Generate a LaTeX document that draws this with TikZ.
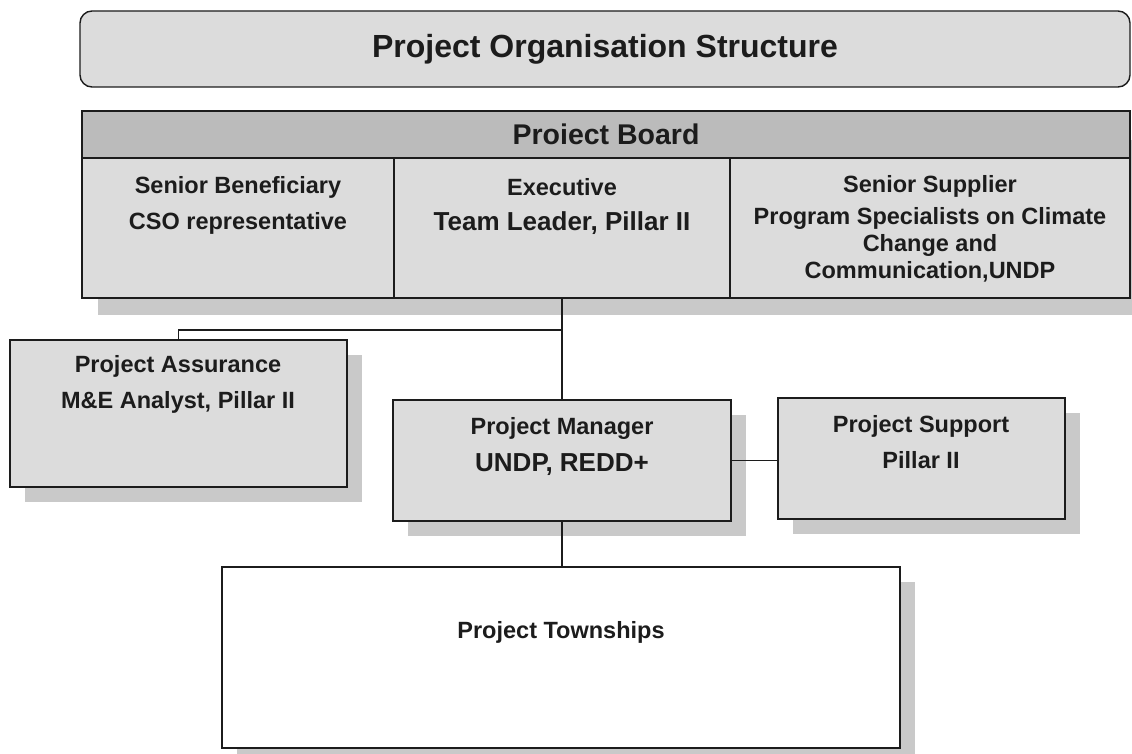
\documentclass[tikz,border=0pt]{standalone}
\usepackage{fontspec}
\setmainfont{Liberation Sans}
\usetikzlibrary{shadows}
\definecolor{boxgray}{HTML}{DCDCDC}
\definecolor{headgray}{HTML}{BBBBBB}
\definecolor{shadegray}{HTML}{C9C9C9}
\definecolor{inkgray}{HTML}{1C1C1C}
\newcommand{\txt}{\fontsize{23.5}{27}\selectfont\bfseries}
\newcommand{\bigtxt}{\fontsize{26}{30}\selectfont\bfseries}

\begin{document}
\begin{tikzpicture}[x=1pt,y=-1pt,
  box/.style={draw=inkgray,line width=1.4pt,fill=boxgray,inner sep=0pt},
  shade/.style={drop shadow={shadow xshift=15pt,shadow yshift=-15pt,fill=shadegray,opacity=1}},
  lbl/.style={text=inkgray,align=center,font=\txt},
  link/.style={draw=inkgray,line width=1.3pt}]
\useasboundingbox (0,0) rectangle (1132,754);

% title
\node[box,rounded corners=12pt,minimum width=1050pt,minimum height=76pt,text=inkgray,
  font=\fontsize{32}{36}\selectfont\bfseries] (title) at (605,49) {Project Organisation Structure};

% board
\fill[shadegray] (98,140) rectangle (1132,315);
\node[box,fill=headgray,minimum width=1048pt,minimum height=47pt,text=inkgray,
  font=\fontsize{28.5}{32}\selectfont\bfseries] (board) at (606,134.5) {Proiect Board};
\node[box,minimum width=312pt,minimum height=140pt] (sb) at (238,228) {};
\node[box,minimum width=336pt,minimum height=140pt] (ex) at (562,228) {};
\node[box,minimum width=400pt,minimum height=140pt] (ss) at (930,228) {};
\node[lbl] (sb-t) at (238,205) {Senior Beneficiary\\[9pt]CSO representative};
\node[lbl] (ex-t) at (562,206) {Executive\\[8pt]{\bigtxt Team Leader, Pillar II}};
\node[lbl] (ss-t) at (930,229) {Senior Supplier\\[5pt]Program Specialists on Climate\\Change and\\Communication,UNDP};

% lower boxes
\node[box,shade,minimum width=337pt,minimum height=147pt] (pa) at (178.5,413.5) {};
\node[box,shade,minimum width=338pt,minimum height=121pt] (pm) at (562,460.5) {};
\node[box,shade,minimum width=287pt,minimum height=121pt] (ps) at (921.5,458.5) {};
\node[box,shade,fill=white,minimum width=678pt,minimum height=181pt] (tw) at (561,657.5) {};
\node[lbl] (pa-t) at (178,384) {Project Assurance\\[9pt]M\&E Analyst, Pillar II};
\node[lbl] (pm-t) at (562,446) {Project Manager\\[10pt]{\bigtxt UNDP, REDD+}};
\node[lbl] (ps-t) at (921,442) {Project Support\\[9pt]Pillar II};
\node[lbl] (tw-t) at (561,632) {Project Townships};

% connectors
\coordinate (split) at (562,330);
\draw[link] (ex.south) -- (pm.north);
\draw[link] (split) -| (pa.north);
\draw[link] (pm.east) -- (pm.east -| ps.west);
\draw[link] (pm.south) -- (pm.south |- tw.north);
\end{tikzpicture}
\end{document}
